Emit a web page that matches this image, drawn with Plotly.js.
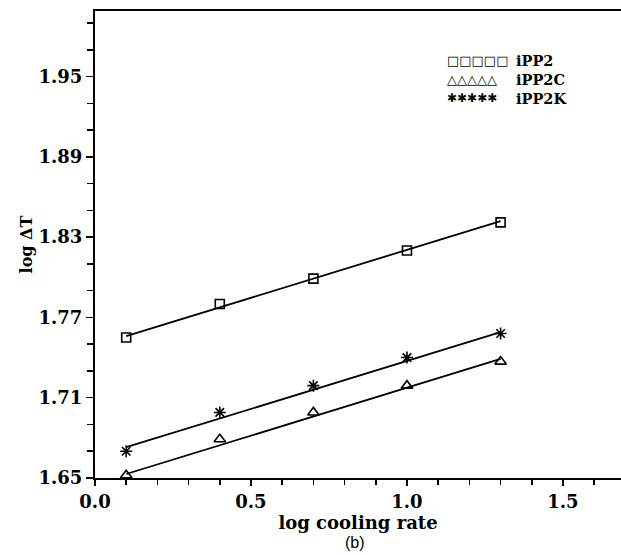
<!DOCTYPE html>
<html><head><meta charset="utf-8">
<script src="https://cdn.plot.ly/plotly-3.0.1.min.js"></script>
<style>html,body{margin:0;padding:0;background:#fff}#chart{width:621px;height:555px}</style>
</head><body><div id="chart"></div>
<script>
// Data
const coolingRate = [0.1, 0.4, 0.7, 1.0, 1.3];
const iPP2  = [1.755, 1.780, 1.799, 1.820, 1.841];
const iPP2C = [1.652, 1.679, 1.699, 1.719, 1.737];
const iPP2K = [1.670, 1.699, 1.719, 1.740, 1.758];
// Fitted straight lines (end points)
const fitX     = [0.1, 1.3];
const fitIPP2  = [1.756, 1.842];
const fitIPP2C = [1.653, 1.739];
const fitIPP2K = [1.673, 1.759];
// Tick labels
const xTickVals = [0.0, 0.5, 1.0, 1.5];
const xTickText = ['0.0', '0.5', '1.0', '1.5'];
const yTickVals = [1.65, 1.71, 1.77, 1.83, 1.89, 1.95];
const yTickText = ['1.65', '1.71', '1.77', '1.83', '1.89', '1.95'];
// Legend
const seriesNames  = ['iPP2', 'iPP2C', 'iPP2K'];
const legendGlyphs = ['\u25A1\u25A1\u25A1\u25A1\u25A1', '\u25B3\u25B3\u25B3\u25B3\u25B3', '\u2731\u2731\u2731\u2731\u2731'];

const black = '#000';
const serifBold = {family: 'DejaVu Serif', size: 18, color: black, weight: 'bold'};

function lineTrace(y) {
  return {x: fitX, y: y, mode: 'lines', line: {color: black, width: 1.8}, showlegend: false, hoverinfo: 'skip'};
}
function markTrace(y, name, symbol, size) {
  return {x: coolingRate, y: y, name: name, mode: 'markers', showlegend: false,
    marker: {symbol: symbol, size: size, color: black, line: {color: black, width: 1.6}}};
}

const data = [
  lineTrace(fitIPP2), lineTrace(fitIPP2C), lineTrace(fitIPP2K),
  markTrace(iPP2, seriesNames[0], 'square-open', 9),
  markTrace(iPP2C, seriesNames[1], 'triangle-up-open', 10),
  markTrace(iPP2K, seriesNames[2], 'asterisk-open', 10)
];

const legendRowsY = [0.895, 0.854, 0.813];
const annotations = [];
for (let i = 0; i < seriesNames.length; i++) {
  annotations.push({xref: 'paper', yref: 'paper', x: 0.666, y: legendRowsY[i], xanchor: 'left', yanchor: 'middle',
    text: '<b>' + legendGlyphs[i] + '</b>', showarrow: false,
    font: {family: 'DejaVu Sans', size: i === 2 ? 12 : 13, color: black, weight: 'bold'}});
  annotations.push({xref: 'paper', yref: 'paper', x: 0.797, y: legendRowsY[i], xanchor: 'left', yanchor: 'middle',
    text: seriesNames[i], showarrow: false, font: {family: 'DejaVu Serif', size: 14.5, color: black, weight: 'bold'}});
}
annotations.push({xref: 'paper', yref: 'paper', x: 0.494, y: -0.139, xanchor: 'center', yanchor: 'middle',
  text: '(b)', showarrow: false, font: {family: 'Liberation Sans', size: 16, color: black}});

const layout = {
  width: 621, height: 555,
  margin: {l: 95, r: 0, t: 11, b: 77},
  paper_bgcolor: '#fff', plot_bgcolor: '#fff',
  showlegend: false,
  xaxis: {
    range: [0, 1.686], showgrid: false, zeroline: false,
    showline: true, linecolor: black, linewidth: 2, mirror: true,
    tickmode: 'array', tickvals: xTickVals, ticktext: xTickText,
    ticks: 'outside', ticklen: 6, tickwidth: 1.5, tickcolor: black,
    minor: {tickmode: 'linear', tick0: 0, dtick: 0.1, ticks: 'outside', ticklen: 5, tickwidth: 1.5, tickcolor: black},
    tickfont: serifBold,
    title: {text: 'log cooling rate', font: {family: 'DejaVu Serif', size: 18, color: black, weight: 'bold'}, standoff: 0}
  },
  yaxis: {
    range: [1.65, 1.999], showgrid: false, zeroline: false,
    showline: true, linecolor: black, linewidth: 2, mirror: false,
    tickmode: 'array', tickvals: yTickVals, ticktext: yTickText,
    ticks: 'outside', ticklen: 7, tickwidth: 1.5, tickcolor: black,
    minor: {tickmode: 'linear', tick0: 1.65, dtick: 0.02, ticks: 'outside', ticklen: 6, tickwidth: 1.5, tickcolor: black},
    tickfont: serifBold,
    title: {text: 'log \u0394T', font: {family: 'DejaVu Serif', size: 16, color: black, weight: 'bold'}, standoff: 2}
  },
  annotations: annotations
};

Plotly.newPlot('chart', data, layout, {displayModeBar: false, staticPlot: true});
</script>
</body></html>
